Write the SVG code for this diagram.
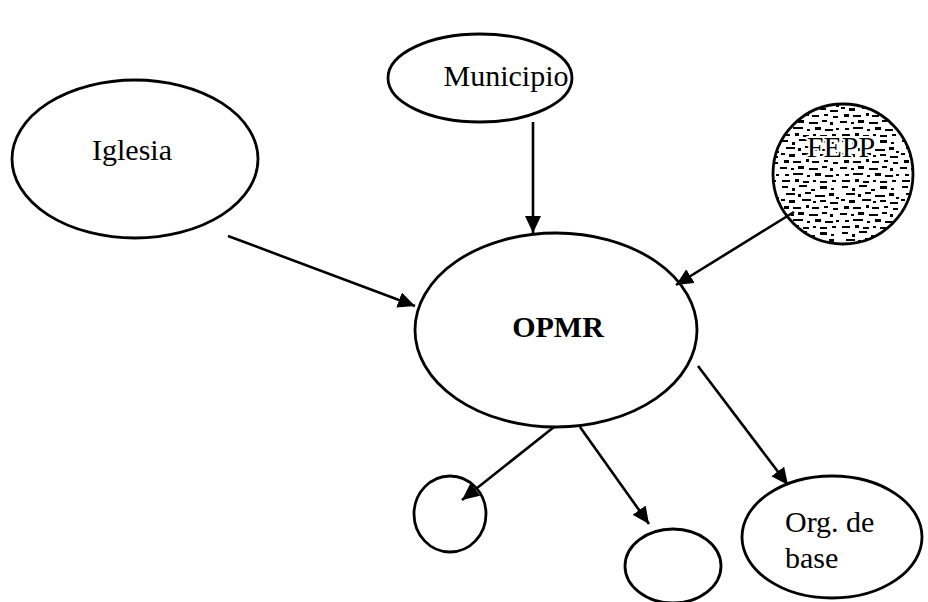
<svg xmlns="http://www.w3.org/2000/svg" width="928" height="602" viewBox="0 0 928 602">
<style>
.n{fill:#fff;stroke:#000;stroke-width:2.8}
.t{font-family:"Liberation Serif","Times New Roman",serif;font-size:30px;fill:#000}
.e{stroke:#000;stroke-width:2.6;fill:none;marker-end:url(#ah)}
</style>
<defs>
<marker id="ah" markerUnits="userSpaceOnUse" markerWidth="20" markerHeight="18" refX="17" refY="8" orient="auto">
<path d="M0,0 L17,8 L0,16 z" fill="#000"/>
</marker>
<pattern id="stip" patternUnits="userSpaceOnUse" width="60" height="46">
<rect width="60" height="46" fill="#fff"/>
<g fill="#000">
<rect x="2" y="2" width="6" height="2"/>
<rect x="12" y="4" width="3" height="3"/>
<rect x="19" y="1" width="8" height="2"/>
<rect x="31" y="5" width="4" height="2"/>
<rect x="40" y="2" width="7" height="3"/>
<rect x="51" y="4" width="3" height="2"/>
<rect x="6" y="9" width="9" height="2"/>
<rect x="18" y="10" width="3" height="3"/>
<rect x="25" y="8" width="6" height="2"/>
<rect x="35" y="11" width="10" height="2"/>
<rect x="49" y="9" width="5" height="3"/>
<rect x="56" y="13" width="3" height="2"/>
<rect x="1" y="15" width="4" height="2"/>
<rect x="9" y="16" width="6" height="3"/>
<rect x="22" y="15" width="9" height="2"/>
<rect x="33" y="17" width="3" height="2"/>
<rect x="40" y="16" width="6" height="2"/>
<rect x="50" y="18" width="8" height="2"/>
<rect x="4" y="22" width="5" height="3"/>
<rect x="13" y="23" width="8" height="2"/>
<rect x="26" y="21" width="3" height="3"/>
<rect x="32" y="23" width="7" height="2"/>
<rect x="44" y="22" width="4" height="2"/>
<rect x="53" y="24" width="5" height="2"/>
<rect x="0" y="29" width="7" height="2"/>
<rect x="11" y="30" width="3" height="2"/>
<rect x="18" y="28" width="6" height="3"/>
<rect x="29" y="30" width="9" height="2"/>
<rect x="42" y="28" width="5" height="2"/>
<rect x="50" y="30" width="3" height="3"/>
<rect x="5" y="36" width="4" height="2"/>
<rect x="13" y="35" width="10" height="2"/>
<rect x="27" y="37" width="3" height="2"/>
<rect x="35" y="35" width="6" height="3"/>
<rect x="45" y="37" width="8" height="2"/>
<rect x="56" y="36" width="3" height="2"/>
<rect x="2" y="42" width="8" height="2"/>
<rect x="15" y="41" width="4" height="3"/>
<rect x="23" y="43" width="6" height="2"/>
<rect x="33" y="42" width="3" height="2"/>
<rect x="40" y="43" width="7" height="2"/>
<rect x="52" y="42" width="4" height="2"/>
</g>
</pattern>
</defs>
<g id="municipio">
<ellipse class="n" cx="480" cy="78" rx="92" ry="44"/>
<text class="t" x="506" y="86" text-anchor="middle">Municipio</text>
</g>
<g id="iglesia">
<ellipse class="n" cx="135" cy="159" rx="123" ry="79"/>
<text class="t" x="132" y="160" text-anchor="middle">Iglesia</text>
</g>
<g id="fepp">
<circle cx="843" cy="174" r="70" fill="url(#stip)" stroke="#000" stroke-width="2.8"/>
<text class="t" x="841" y="157" text-anchor="middle" stroke="#fff" stroke-width="4" stroke-linejoin="round">FEPP</text>
<text class="t" x="841" y="157" text-anchor="middle">FEPP</text>
</g>
<g id="opmr">
<ellipse class="n" cx="556" cy="330" rx="141" ry="97"/>
<text class="t" x="558" y="337" text-anchor="middle" font-weight="bold">OPMR</text>
</g>
<g id="circle1">
<ellipse class="n" cx="450" cy="514" rx="36" ry="38"/>
</g>
<g id="circle2">
<ellipse class="n" cx="673" cy="566" rx="48" ry="37"/>
</g>
<g id="orgbase">
<ellipse class="n" cx="832" cy="537" rx="90" ry="61"/>
<text class="t" x="785" y="532">Org. de</text>
<text class="t" x="785" y="568">base</text>
</g>
<g id="connectors">
<line class="e" x1="533" y1="122" x2="533" y2="233"/>
<line class="e" x1="228" y1="236" x2="415" y2="306"/>
<line class="e" x1="794" y1="212" x2="676" y2="285"/>
<line class="e" x1="554" y1="427" x2="462" y2="500"/>
<line class="e" x1="580" y1="427" x2="649" y2="524"/>
<line class="e" x1="698" y1="366" x2="788" y2="485"/>
</g>
</svg>
